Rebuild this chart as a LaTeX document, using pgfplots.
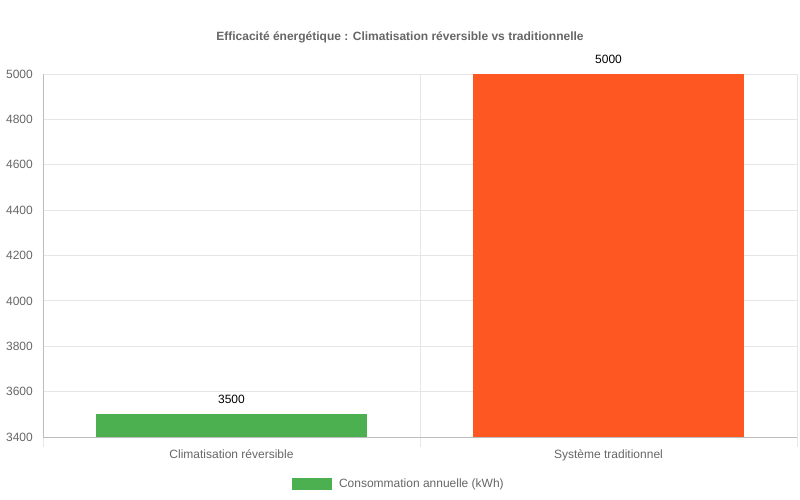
\documentclass[border=0pt]{standalone}
\usepackage{pgfplots}
\pgfplotsset{compat=1.18}
\usepackage{fontspec}
\setmainfont{Liberation Sans}
\definecolor{txt}{HTML}{666666}
\definecolor{gridc}{HTML}{E6E6E6}
\definecolor{axc}{HTML}{BDBDBD}
\definecolor{gr}{HTML}{4CAF50}
\definecolor{og}{HTML}{FF5722}
\begin{document}
\begin{tikzpicture}
\useasboundingbox (0,0) rectangle (800pt,500pt);
\begin{axis}[
  at={(43pt,63pt)}, anchor=south west, scale only axis,
  width=754pt, height=363pt,
  xmin=-0.5, xmax=1.5, ymin=3400, ymax=5000,
  ytick={3400,3600,...,5000},
  xtick={0,1},
  xticklabels={Climatisation réversible, Système traditionnel},
  minor xtick={-0.5,0.5,1.5},
  ymajorgrids, xminorgrids,
  grid style={draw=gridc, line width=0.8pt},
  minor grid style={draw=gridc, line width=0.8pt},
  major tick length=0pt, minor tick length=10pt, tick align=outside,
  minor tick style={draw=gridc, line width=0.8pt},
  axis lines*=left,
  axis line style={draw=axc, line width=0.8pt, -},
  /pgf/number format/assume math mode=true,
  /pgf/number format/1000 sep={},
  tick label style={font=\fontsize{12}{14}\selectfont, text=txt},
  yticklabel style={inner sep=0pt, xshift=-10pt},
  xticklabel style={inner sep=0pt, yshift=-12pt},
  ybar, bar width=0.719, bar shift=0pt,
  nodes near coords,
  nodes near coords style={font=\fontsize{12}{14}\selectfont, text=black, inner sep=0pt, yshift=10.5pt, /pgf/number format/assume math mode=true},
  legend style={at={(0.330,0)}, anchor=west, yshift=-47pt, draw=none, fill=none,
    inner sep=0pt, font=\fontsize{12}{14}\selectfont, text=txt,
    nodes={inner sep=0pt}, column sep=7pt},
  clip=true,
]
\addplot[fill=gr, draw=none,
  legend image code/.code={\fill[gr] (0pt,-6pt) rectangle (40pt,6pt);}]
  coordinates {(0,3500)};
\addlegendentry{Consommation annuelle (kWh)}
\addplot[fill=og, draw=none, forget plot] coordinates {(1,5000)};
\end{axis}
\node[font=\bfseries\fontsize{12}{14}\selectfont, text=txt] at (400pt,463pt)
  {Efficacité énergétique : Climatisation réversible vs traditionnelle};
\end{tikzpicture}
\end{document}
